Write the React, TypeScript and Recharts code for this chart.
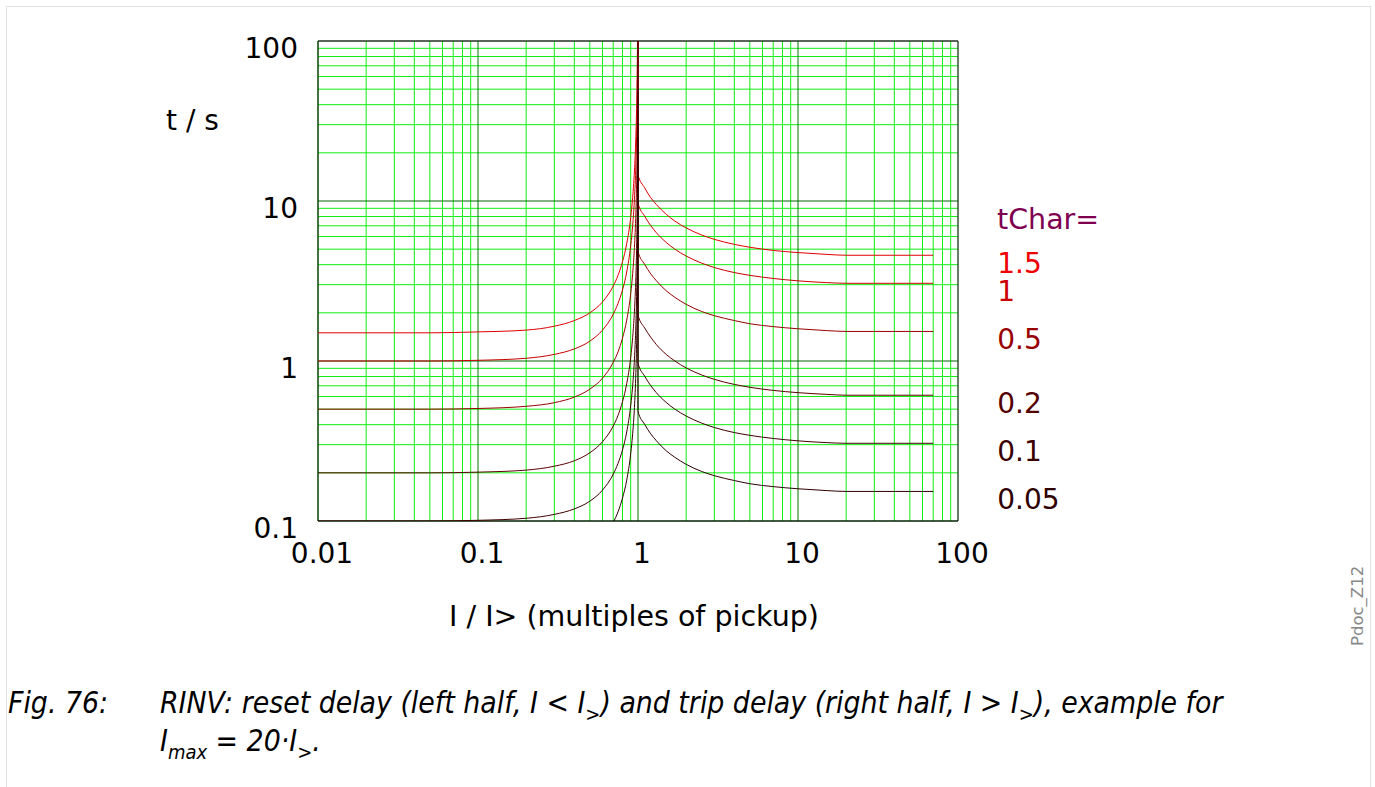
import { LineChart, Line, XAxis, YAxis, ReferenceLine } from 'recharts'

const current = [
  0.01, 0.02, 0.05, 0.1, 0.2, 0.3, 0.4, 0.5, 0.6, 0.7, 0.75, 0.8, 0.85, 0.9, 0.93, 0.95, 0.97, 0.98,
  0.99, 0.995, 0.999,
  1, 1.1, 1.2, 1.3, 1.5, 1.7, 2, 2.5, 3, 4, 5, 7, 10, 15, 20, 30, 50, 70,
]

// t / s for each tChar (reset part left of 1, trip part right of 1)
const tChar150 = [
  1.5, 1.5, 1.5, 1.52, 1.56, 1.65, 1.79, 2.0, 2.34, 2.94, 3.43, 4.17, 5.41, 7.89, 11.1, 15.4, 25.4, 37.9,
  75.4, 150, 750,
  14.6, 12.1, 10.5, 9.53, 8.26, 7.49, 6.79, 6.13, 5.76, 5.36, 5.14, 4.91, 4.76, 4.64, 4.58, 4.58, 4.58, 4.58,
]
const tChar100 = [
  1.0, 1.0, 1.0, 1.01, 1.04, 1.1, 1.19, 1.33, 1.56, 1.96, 2.29, 2.78, 3.6, 5.26, 7.4, 10.3, 16.9, 25.3,
  50.3, 100, 500,
  9.71, 8.04, 7.03, 6.35, 5.51, 5.0, 4.53, 4.09, 3.84, 3.57, 3.43, 3.28, 3.17, 3.09, 3.06, 3.06, 3.06, 3.06,
]
const tChar050 = [
  0.5, 0.5, 0.5, 0.505, 0.521, 0.549, 0.595, 0.667, 0.781, 0.98, 1.14, 1.39, 1.8, 2.63, 3.7, 5.13, 8.46, 12.6,
  25.1, 50.1, 250,
  4.85, 4.02, 3.51, 3.18, 2.75, 2.5, 2.26, 2.04, 1.92, 1.79, 1.71, 1.64, 1.59, 1.55, 1.53, 1.53, 1.53, 1.53,
]
const tChar020 = [
  0.2, 0.2, 0.2, 0.202, 0.208, 0.22, 0.238, 0.267, 0.313, 0.392, 0.457, 0.556, 0.721, 1.05, 1.48, 2.05, 3.38, 5.05,
  10.1, 20.1, 100,
  1.94, 1.61, 1.41, 1.27, 1.1, 1.0, 0.905, 0.818, 0.768, 0.714, 0.685, 0.655, 0.634, 0.619, 0.611, 0.611, 0.611, 0.611,
]
const tChar010 = [
  0.1, 0.1, 0.1, 0.101, 0.104, 0.11, 0.119, 0.133, 0.156, 0.196, 0.229, 0.278, 0.36, 0.526, 0.74, 1.03, 1.69, 2.53,
  5.03, 10.0, 50.0,
  0.971, 0.804, 0.703, 0.635, 0.551, 0.5, 0.453, 0.409, 0.384, 0.357, 0.343, 0.328, 0.317, 0.309, 0.306, 0.306, 0.306, 0.306,
]
const tChar005 = [
  0.05, 0.05, 0.05, 0.0505, 0.0521, 0.0549, 0.0595, 0.0667, 0.0781, 0.098, 0.114, 0.139, 0.18, 0.263, 0.37, 0.513, 0.846, 1.26,
  2.51, 5.01, 25.0,
  0.485, 0.402, 0.351, 0.318, 0.275, 0.25, 0.226, 0.204, 0.192, 0.179, 0.171, 0.164, 0.159, 0.155, 0.153, 0.153, 0.153, 0.153,
]

const xTicks = [0.01, 0.1, 1, 10, 100]
const yTicks = [0.1, 1, 10, 100]
const xMinor = [
  0.02, 0.03, 0.04, 0.05, 0.06, 0.07, 0.08, 0.09, 0.2, 0.3, 0.4, 0.5, 0.6, 0.7, 0.8, 0.9,
  2, 3, 4, 5, 6, 7, 8, 9, 20, 30, 40, 50, 60, 70, 80, 90,
]
const yMinor = [0.2, 0.3, 0.4, 0.5, 0.6, 0.7, 0.8, 0.9, 2, 3, 4, 5, 6, 7, 8, 9, 20, 30, 40, 50, 60, 70, 80, 90]
const xMajor = [0.1, 1, 10]
const yMajor = [1, 10]

const series = [
  { key: 'c150', name: '1.5', values: tChar150, stroke: '#e00000', text: '#ee0000' },
  { key: 'c100', name: '1', values: tChar100, stroke: '#c80000', text: '#cc0000' },
  { key: 'c050', name: '0.5', values: tChar050, stroke: '#990000', text: '#990000' },
  { key: 'c020', name: '0.2', values: tChar020, stroke: '#5a0000', text: '#550000' },
  { key: 'c010', name: '0.1', values: tChar010, stroke: '#400000', text: '#3a0000' },
  { key: 'c005', name: '0.05', values: tChar005, stroke: '#300000', text: '#300000' },
]

const rows = current.map((x, i) => {
  const row: Record<string, number> = { x }
  series.forEach((s) => { row[s.key] = s.values[i] })
  return row
})

const FONT = "'DejaVu Sans', sans-serif"
const CAPTION_FONT = "'DejaVu Sans Condensed', 'DejaVu Sans', sans-serif"
const last = current.length - 1
const subStyle = { fontSize: 20, verticalAlign: 'baseline', position: 'relative' as const, top: 8, lineHeight: 0 }

export default function App() {
  return (
    <div style={{ position: 'absolute', left: 0, top: 0, width: 1375, height: 787, background: '#fff', fontFamily: FONT }}>
      <div style={{ position: 'absolute', left: 6, top: 6, width: 1363, height: 800, border: '1px solid #e2e2e2' }} />
      <div style={{ position: 'absolute', left: 0, top: 0 }}>
        <LineChart
          width={1375}
          height={787}
          data={rows}
          margin={{ top: 41, left: 258, right: 417, bottom: 206 }}
        >
          <XAxis
            dataKey="x"
            type="number"
            scale="log"
            domain={[0.01, 100]}
            ticks={xTicks}
            allowDataOverflow
            height={60}
            axisLine={false}
            tickLine={false}
            tickSize={0}
            tickMargin={22}
            tick={{ fontSize: 28, fill: '#000', fontFamily: FONT, dx: 4 }}
            tickFormatter={(v: number) => String(v)}
          />
          <YAxis
            type="number"
            scale="log"
            domain={[0.1, 100]}
            ticks={yTicks}
            allowDataOverflow
            width={60}
            axisLine={false}
            tickLine={false}
            tickSize={0}
            tickMargin={20}
            tick={{ fontSize: 28, fill: '#000', fontFamily: FONT, dy: 7 }}
            tickFormatter={(v: number) => String(v)}
          />
          {yMinor.map((v) => (
            <ReferenceLine key={'ym' + v} y={v} stroke="#11ee11" strokeWidth={1} />
          ))}
          {xMinor.map((v) => (
            <ReferenceLine key={'xm' + v} x={v} stroke="#11ee11" strokeWidth={1} />
          ))}
          {yMajor.map((v) => (
            <ReferenceLine key={'yM' + v} y={v} stroke="#006600" strokeWidth={1} />
          ))}
          {xMajor.map((v) => (
            <ReferenceLine key={'xM' + v} x={v} stroke="#007700" strokeWidth={1} />
          ))}
          <ReferenceLine x={0.01} stroke="#004400" strokeWidth={1.5} />
          <ReferenceLine x={100} stroke="#335533" strokeWidth={1.5} />
          <ReferenceLine y={0.1} stroke="#002200" strokeWidth={1.5} />
          <ReferenceLine y={100} stroke="#223322" strokeWidth={1.5} />
          {series.map((s) => (
            <Line
              key={s.key}
              dataKey={s.key}
              type="monotone"
              stroke={s.stroke}
              strokeWidth={1}
              dot={false}
              isAnimationActive={false}
              label={(p: any) =>
                p.index === last ? (
                  <text
                    key={s.key + 'lbl'}
                    x={p.x + 64}
                    y={p.y + 8}
                    fill={s.text}
                    fontSize={28}
                    fontFamily={FONT}
                    dominantBaseline="central"
                  >
                    {s.name}
                  </text>
                ) : (
                  <g key={s.key + 'n' + p.index} />
                )
              }
            />
          ))}
        </LineChart>
      </div>
      <div style={{ position: 'absolute', left: 997, top: 202, fontSize: 28.5, lineHeight: '36px', color: '#800050' }}>tChar=</div>
      <div style={{ position: 'absolute', left: 166, top: 103, fontSize: 28, lineHeight: '36px', color: '#000' }}>t / s</div>
      <div style={{ position: 'absolute', left: 449, top: 599, fontSize: 28.5, lineHeight: '36px', color: '#000', whiteSpace: 'nowrap' }}>
        I / I&gt; (multiples of pickup)
      </div>
      <div
        style={{
          position: 'absolute', left: 1320, top: 598, width: 76, fontSize: 16.5, color: '#888', textAlign: 'center',
          transform: 'rotate(-90deg)', transformOrigin: 'center', whiteSpace: 'nowrap', lineHeight: '20px',
        }}
      >
        Pdoc_Z12
      </div>
      <div style={{ fontFamily: CAPTION_FONT, fontStretch: 'condensed' }}>
        <div style={{ position: 'absolute', left: 8, top: 684, fontSize: 29.8, lineHeight: '38px', fontStyle: 'italic', color: '#000' }}>
          Fig. 76:
        </div>
        <div style={{ position: 'absolute', left: 160, top: 684, fontSize: 29.8, lineHeight: '38px', fontStyle: 'italic', color: '#000', whiteSpace: 'nowrap' }}>
          RINV: reset delay (left half, I &lt; I<sub style={subStyle}>&gt;</sub>) and trip delay (right half, I &gt; I
          <sub style={subStyle}>&gt;</sub>), example for
          <br />
          I<sub style={subStyle}>max</sub> = 20·I<sub style={subStyle}>&gt;</sub>.
        </div>
      </div>
    </div>
  )
}
